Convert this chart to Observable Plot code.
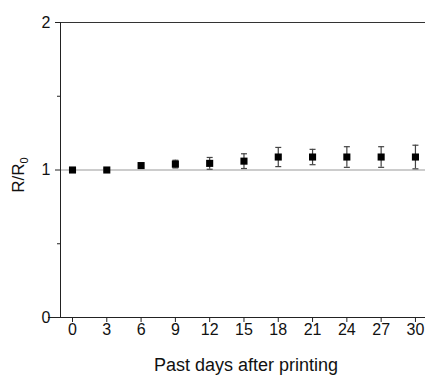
<!DOCTYPE html>
<html>
<head>
<meta charset="utf-8">
<script src="https://cdn.jsdelivr.net/npm/d3@7"></script>
<script src="https://cdn.jsdelivr.net/npm/@observablehq/plot@0.6"></script>
<style>
  html, body { margin: 0; padding: 0; background: #fff; }
  #chart svg { font-family: "Liberation Sans", Arial, sans-serif; }
</style>
</head>
<body>
<div id="chart"></div>
<script>
const days = [0, 3, 6, 9, 12, 15, 18, 21, 24, 27, 30];
const ratio = [1.00, 1.00, 1.03, 1.04, 1.045, 1.06, 1.088, 1.088, 1.088, 1.088, 1.088];
const errors = [0.01, 0.01, 0.01, 0.026, 0.04, 0.05, 0.065, 0.052, 0.07, 0.07, 0.08];
const xTicks = [0, 3, 6, 9, 12, 15, 18, 21, 24, 27, 30];
const yTicks = [0, 1, 2];
const yMinorTicks = [0.5, 1.5];
const xLabel = "Past days after printing";

const data = days.map((d, i) => ({day: d, r: ratio[i], lo: ratio[i] - errors[i], hi: ratio[i] + errors[i]}));

const cap = {
  draw(ctx, size) {
    const r = Math.sqrt(size / Math.PI);
    ctx.moveTo(-r, 0);
    ctx.lineTo(r, 0);
  }
};

const plot = Plot.plot({
  width: 425,
  height: 376,
  marginLeft: 60,
  marginRight: 0,
  marginTop: 22,
  marginBottom: 59,
  style: {fontFamily: "Liberation Sans, Arial, sans-serif", background: "#fff"},
  x: {domain: [-1.05, 30.88]},
  y: {domain: [0, 2]},
  marks: [
    Plot.ruleY([1], {stroke: "#9a9a9a", strokeWidth: 1.2}),
    Plot.ruleY([2], {stroke: "#333", strokeWidth: 1}),
    Plot.ruleY([0], {stroke: "#222", strokeWidth: 1, x1: -2.1, x2: 30.88}),
    Plot.ruleX([-1.05], {stroke: "#222", strokeWidth: 1}),
    Plot.axisX({ticks: xTicks, tickSize: 5, tickPadding: 1, fontSize: 16, label: null, stroke: "#222", color: "#111"}),
    Plot.axisY({ticks: yTicks, tickSize: 5, tickPadding: 5, fontSize: 16, label: null, stroke: "#222", color: "#111", tickFormat: d3.format("d")}),
    Plot.axisY({ticks: yMinorTicks, tickSize: 3, tickFormat: () => "", label: null, stroke: "#222"}),
    Plot.ruleX(data, {x: "day", y1: "lo", y2: "hi", stroke: "#444", strokeWidth: 1.2}),
    Plot.dot(data, {x: "day", y: "lo", symbol: cap, r: 3, stroke: "#444", strokeWidth: 1.2}),
    Plot.dot(data, {x: "day", y: "hi", symbol: cap, r: 3, stroke: "#444", strokeWidth: 1.2}),
    Plot.dot(data, {x: "day", y: "r", symbol: "square", r: 4, fill: "#000", stroke: "none"})
  ]
});

const svg = d3.select(plot);
svg.append("text")
  .attr("transform", "translate(24,175) rotate(-90)")
  .attr("text-anchor", "middle")
  .attr("font-size", 17)
  .attr("fill", "#111")
  .call(t => {
    t.append("tspan").text("R/R");
    t.append("tspan").attr("font-size", 11).attr("dy", 4).text("0");
  });
svg.append("text")
  .attr("x", 246)
  .attr("y", 371)
  .attr("text-anchor", "middle")
  .attr("font-size", 18)
  .attr("fill", "#111")
  .text(xLabel);

document.getElementById("chart").appendChild(plot);
</script>
</body>
</html>
